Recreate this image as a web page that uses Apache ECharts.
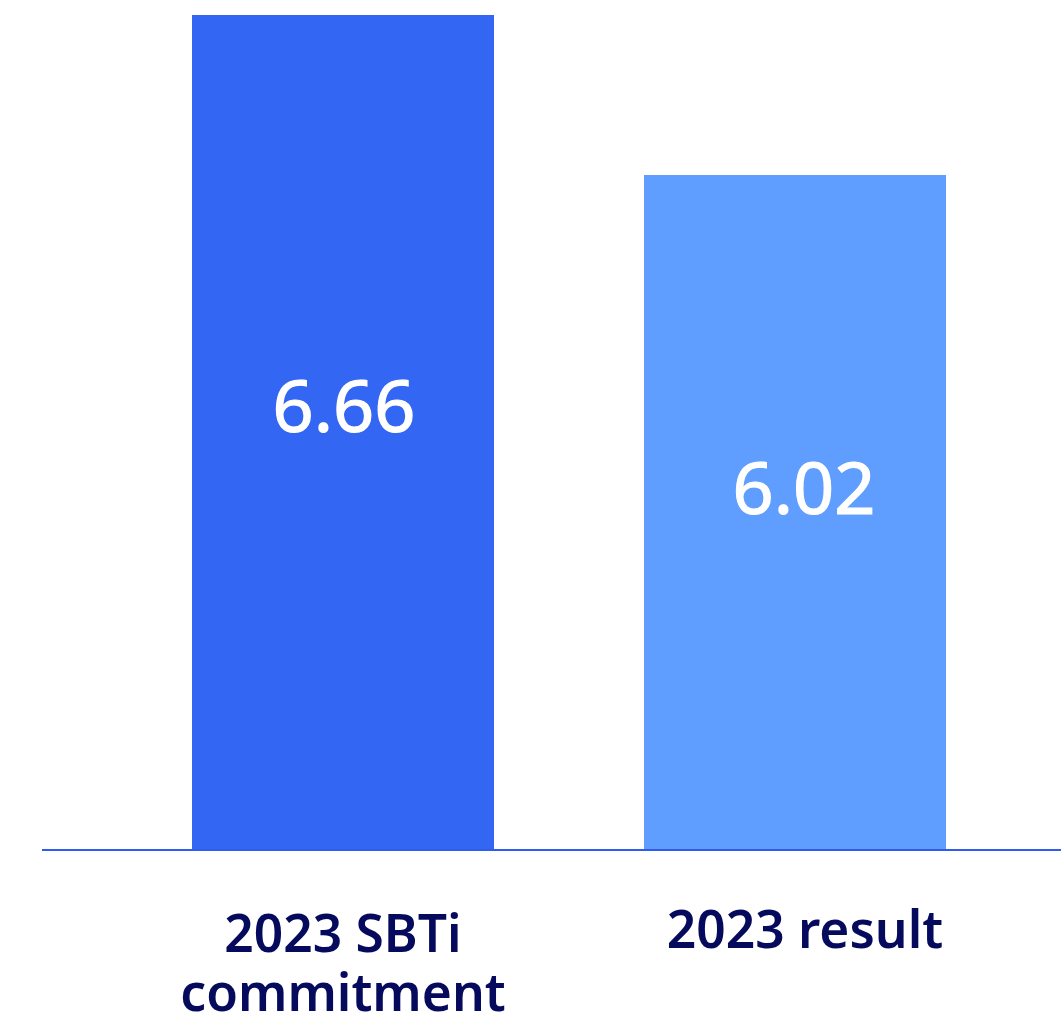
<!DOCTYPE html>
<html>
<head>
<meta charset="utf-8">
<script src="https://cdn.jsdelivr.net/npm/echarts@6/dist/echarts.min.js"></script>
<style>
  html, body { margin: 0; padding: 0; background: #fff; }
  #main { width: 1061px; height: 1020px; }
</style>
</head>
<body>
<div id="main"></div>
<script>
var categories = ['2023 SBTi\ncommitment', '2023 result'];
var values = [6.66, 6.02];
var barColors = ['#3366F3', '#5F9DFF'];

var chart = echarts.init(document.getElementById('main'));

var option = {
  backgroundColor: '#fff',
  animation: false,
  grid: {
    left: 117,
    right: 40,
    top: 15,
    bottom: 170,
    containLabel: false,
    outerBoundsMode: 'none'
  },
  xAxis: {
    type: 'category',
    data: categories.map(function (c, i) {
      // label placement in the original is a little uneven
      var pad = i === 1 ? [0, 0, 0, 20] : [4, 0, 0, 0];
      return { value: c, textStyle: { padding: pad } };
    }),
    axisLine: { show: false },
    axisTick: { show: false },
    axisLabel: {
      margin: 54,
      fontFamily: 'Noto Sans',
      fontSize: 51.5,
      fontWeight: 600,
      lineHeight: 59,
      color: '#060A5C'
    }
  },
  yAxis: {
    type: 'value',
    min: 3.32,
    max: 6.66,
    show: false,
    splitLine: { show: false }
  },
  graphic: [{
    type: 'line',
    shape: { x1: 42, y1: 850, x2: 1061, y2: 850 },
    style: { stroke: '#2E5CF0', lineWidth: 2 },
    z: 10
  }],
  series: [{
    type: 'bar',
    barWidth: 302,
    data: values.map(function (v, i) {
      return {
        value: v,
        itemStyle: { color: barColors[i] },
        label: { offset: i === 1 ? [9, -19] : [1, -21] }
      };
    }),
    label: {
      show: true,
      position: 'inside',
      fontFamily: 'Noto Sans',
      fontSize: 72,
      color: '#fff',
      // slightly heavier strokes, like the original
      textBorderColor: '#fff',
      textBorderWidth: 1.2
    }
  }]
};

chart.setOption(option);

window.onresize = function () {
  chart.resize();
};
</script>
</body>
</html>
